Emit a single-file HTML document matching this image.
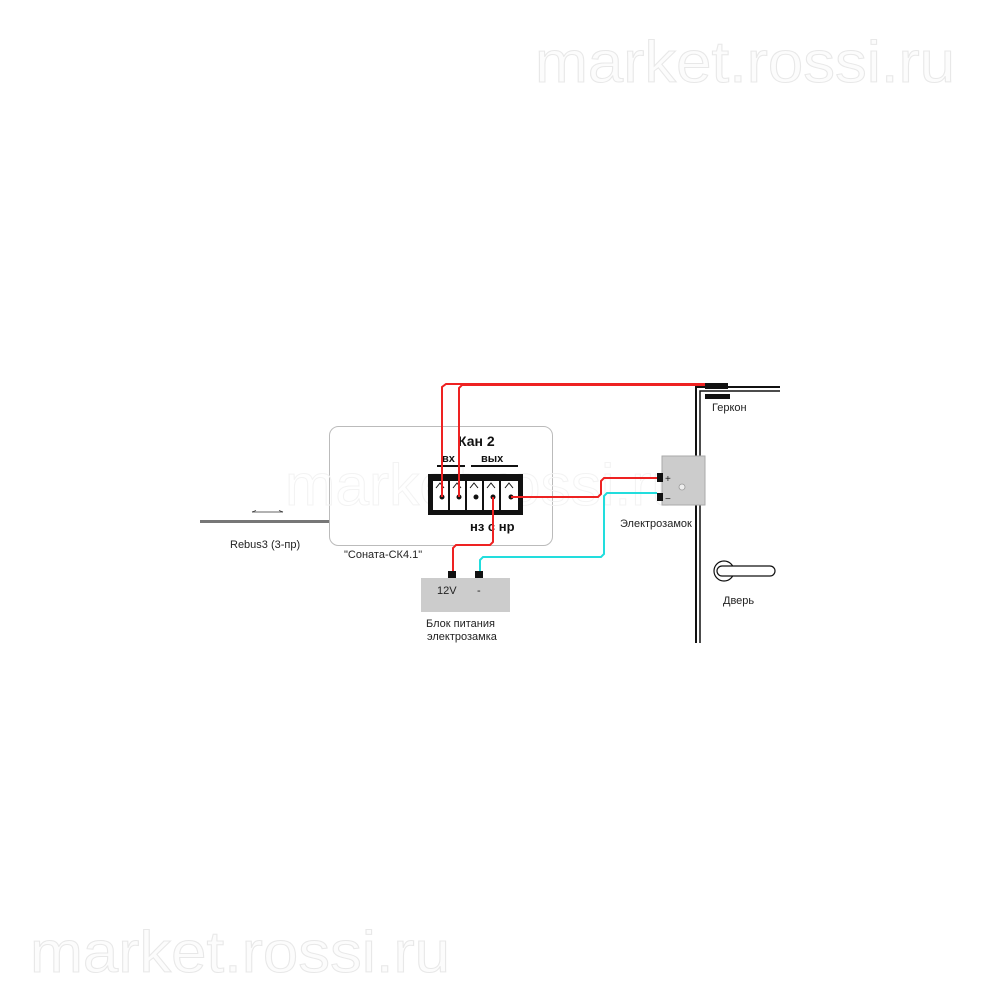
<!DOCTYPE html>
<html><head><meta charset="utf-8"><style>
html,body{margin:0;padding:0;background:#fff}
svg{display:block}
text{font-family:"Liberation Sans",sans-serif}
</style></head><body>
<svg width="1000" height="1000" viewBox="0 0 1000 1000" xmlns="http://www.w3.org/2000/svg">
<!-- watermarks -->
<g fill="#fcfcfc" stroke="#e8e8e8" stroke-width="1">
<text x="535" y="82" font-size="58" textLength="420" lengthAdjust="spacingAndGlyphs">market.rossi.ru</text>
<text x="30" y="972" font-size="58" textLength="420" lengthAdjust="spacingAndGlyphs">market.rossi.ru</text>
</g>
<!-- controller box -->
<rect x="329.5" y="426.5" width="223" height="119" rx="9" fill="#fff" stroke="#bbb" stroke-width="1"/>
<text x="285" y="505" font-size="58" fill="none" stroke="#f3f3f3" textLength="400" lengthAdjust="spacingAndGlyphs">market.rossi.ru</text>
<!-- rebus line -->
<line x1="200" y1="521.5" x2="329" y2="521.5" stroke="#777" stroke-width="3"/>
<line x1="252" y1="512" x2="283" y2="512" stroke="#333" stroke-width="0.8"/>
<line x1="252" y1="512" x2="256" y2="510.5" stroke="#333" stroke-width="0.8"/>
<line x1="283" y1="512" x2="279" y2="510.5" stroke="#333" stroke-width="0.8"/>
<text x="230" y="548" font-size="11" fill="#222">Rebus3 (3-пр)</text>
<text x="344" y="558" font-size="11" fill="#222">"Соната-СК4.1"</text>
<!-- labels -->
<text x="458" y="446" font-size="14" font-weight="bold" fill="#111">Кан 2</text>
<text x="442" y="462" font-size="11" font-weight="bold" fill="#111">вх</text>
<text x="481" y="462" font-size="11" font-weight="bold" fill="#111">вых</text>
<line x1="437" y1="466" x2="465" y2="466" stroke="#111" stroke-width="2"/>
<line x1="471" y1="466" x2="518" y2="466" stroke="#111" stroke-width="2"/>
<text x="470" y="531" font-size="13" font-weight="bold" fill="#111">нз с нр</text>
<!-- terminal block -->
<rect x="428" y="474" width="95" height="41" fill="#111"/>
<g fill="#fff" stroke="none">
<rect x="433" y="481" width="15" height="29"/>
<rect x="450" y="481" width="15" height="29"/>
<rect x="467" y="481" width="15" height="29"/>
<rect x="484" y="481" width="15" height="29"/>
<rect x="501" y="481" width="17" height="29"/>
</g>
<g fill="none" stroke="#111" stroke-width="1">
<polyline points="436,488 440,483 444,488"/><polyline points="453,488 457,483 461,488"/><polyline points="470,488 474,483 478,488"/><polyline points="487,488 491,483 495,488"/><polyline points="505,488 509,483 513,488"/>
</g>
<g fill="#111">
<circle cx="442" cy="497" r="2.5"/><circle cx="459" cy="497" r="2.5"/><circle cx="476" cy="497" r="2.5"/><circle cx="493" cy="497" r="2.5"/><circle cx="511" cy="497" r="2.5"/>
</g>
<!-- door -->
<polyline points="696,643 696,387 780,387" fill="none" stroke="#111" stroke-width="2"/>
<polyline points="700,643 700,391 780,391" fill="none" stroke="#111" stroke-width="1.5"/>
<rect x="705" y="383" width="23" height="6" fill="#111"/>
<rect x="705" y="394" width="25" height="5" fill="#111"/>
<text x="712" y="411" font-size="11" fill="#222">Геркон</text>
<!-- lock -->
<rect x="662" y="456" width="43" height="49" fill="#ccc" stroke="#aaa"/>
<circle cx="682" cy="487" r="3" fill="#eee" stroke="#999" stroke-width="0.8"/>
<rect x="657" y="473" width="6" height="9" fill="#111"/>
<rect x="657" y="493" width="6" height="8" fill="#111"/>
<text x="665" y="482" font-size="10" fill="#222">+</text>
<text x="665" y="502" font-size="10" fill="#222">−</text>
<text x="620" y="527" font-size="11" fill="#222">Электрозамок</text>
<!-- handle -->
<circle cx="724" cy="571" r="10" fill="#fff" stroke="#111" stroke-width="1.2"/>
<rect x="717" y="566" width="58" height="10" rx="5" fill="#fff" stroke="#111" stroke-width="1.2"/>
<text x="723" y="604" font-size="11" fill="#222">Дверь</text>
<!-- psu -->
<rect x="421" y="578" width="89" height="34" fill="#ccc"/>
<rect x="448" y="571" width="8" height="7" fill="#111"/>
<rect x="475" y="571" width="8" height="7" fill="#111"/>
<text x="437" y="594" font-size="11" fill="#222">12V</text>
<text x="477" y="594" font-size="11" fill="#222">-</text>
<text x="426" y="627" font-size="11" fill="#222">Блок питания</text>
<text x="427" y="640" font-size="11" fill="#222">электрозамка</text>
<!-- wires -->
<g fill="none" stroke="#e22" stroke-width="2">
<polyline points="442,497 442,387 446,384 705,384"/>
<polyline points="459,497 459,388 462,385 705,385"/>
<polyline points="511,497 598,497 601,494 601,481 604,478 657,478"/>
<polyline points="493,497 493,542 490,545 456,545 453,548 453,571"/>
</g>
<polyline points="480,571 480,560 483,557 601,557 604,554 604,496 607,493 657,493" fill="none" stroke="#2dd" stroke-width="2"/>
</svg>
</body></html>
